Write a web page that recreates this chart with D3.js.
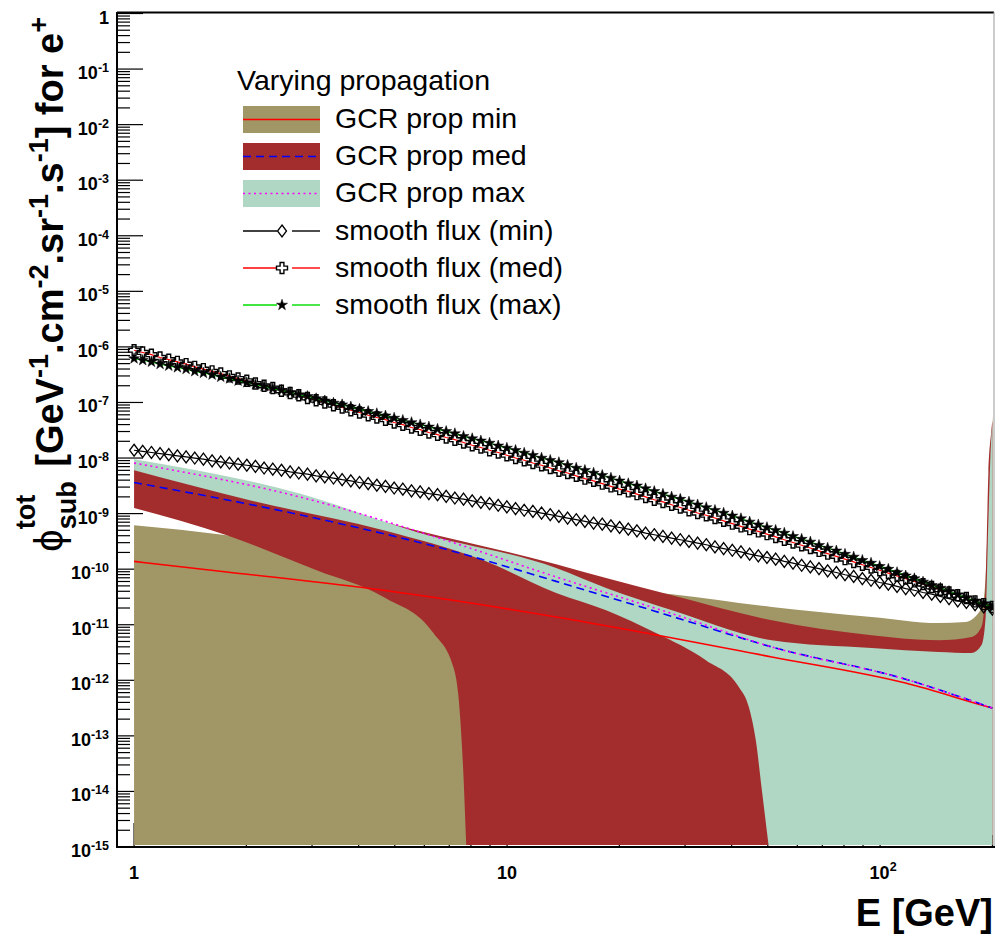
<!DOCTYPE html>
<html><head><meta charset="utf-8">
<script src="https://cdn.jsdelivr.net/npm/d3@7"></script>
<style>body{margin:0;background:#fff;} svg{display:block;}</style>
</head><body><svg id="chart" width="995" height="936"></svg>
<script>
// ---------- DATA (log10 values) ----------
const energyLog10 = [0,0.0232,0.0465,0.0697,0.093,0.1162,0.1395,0.1627,0.1859,0.2092,
0.2324,0.2557,0.2789,0.3022,0.3254,0.3486,0.3719,0.3951,0.4184,0.4416,
0.4649,0.4881,0.5113,0.5346,0.5578,0.5811,0.6043,0.6276,0.6508,0.674,
0.6973,0.7205,0.7438,0.767,0.7903,0.8135,0.8367,0.86,0.8832,0.9065,
0.9297,0.953,0.9762,0.9994,1.0227,1.0459,1.0692,1.0924,1.1157,1.1389,
1.1622,1.1854,1.2086,1.2319,1.2551,1.2784,1.3016,1.3249,1.3481,1.3713,
1.3946,1.4178,1.4411,1.4643,1.4876,1.5108,1.534,1.5573,1.5805,1.6038,
1.627,1.6503,1.6735,1.6967,1.72,1.7432,1.7665,1.7897,1.813,1.8362,
1.8594,1.8827,1.9059,1.9292,1.9524,1.9757,1.9989,2.0221,2.0454,2.0686,
2.0919,2.1151,2.1384,2.1616,2.1848,2.2081,2.2313,2.2546,2.2778,2.301];

const smoothMinLog10 = [-7.86,-7.88,-7.90,-7.92,-7.94,-7.96,-7.98,-8.00,-8.02,-8.05,
-8.07,-8.09,-8.11,-8.13,-8.15,-8.18,-8.20,-8.22,-8.25,-8.27,
-8.29,-8.32,-8.34,-8.36,-8.39,-8.41,-8.44,-8.46,-8.49,-8.51,
-8.54,-8.56,-8.59,-8.61,-8.64,-8.66,-8.69,-8.72,-8.74,-8.77,
-8.80,-8.82,-8.85,-8.88,-8.91,-8.94,-8.96,-8.99,-9.02,-9.05,
-9.08,-9.11,-9.14,-9.17,-9.19,-9.22,-9.25,-9.28,-9.31,-9.35,
-9.38,-9.41,-9.44,-9.47,-9.50,-9.53,-9.56,-9.60,-9.63,-9.66,
-9.69,-9.73,-9.76,-9.79,-9.82,-9.86,-9.89,-9.93,-9.96,-9.99,
-10.03,-10.06,-10.10,-10.13,-10.17,-10.20,-10.24,-10.27,-10.31,-10.35,
-10.38,-10.42,-10.45,-10.49,-10.53,-10.57,-10.60,-10.64,-10.68,-10.72];

const smoothMedLog10 = [-6.06,-6.10,-6.14,-6.19,-6.23,-6.27,-6.31,-6.36,-6.40,-6.44,
-6.48,-6.53,-6.57,-6.61,-6.66,-6.70,-6.74,-6.79,-6.83,-6.87,
-6.92,-6.96,-7.00,-7.05,-7.09,-7.14,-7.18,-7.23,-7.27,-7.31,
-7.36,-7.40,-7.45,-7.49,-7.54,-7.58,-7.63,-7.67,-7.72,-7.77,
-7.81,-7.86,-7.90,-7.95,-8.00,-8.04,-8.09,-8.13,-8.18,-8.23,
-8.27,-8.32,-8.37,-8.41,-8.46,-8.51,-8.56,-8.60,-8.65,-8.70,
-8.75,-8.79,-8.84,-8.89,-8.94,-8.99,-9.03,-9.08,-9.13,-9.18,
-9.23,-9.28,-9.32,-9.37,-9.42,-9.47,-9.52,-9.57,-9.62,-9.67,
-9.72,-9.77,-9.82,-9.87,-9.92,-9.97,-10.02,-10.07,-10.12,-10.17,
-10.22,-10.27,-10.32,-10.37,-10.42,-10.47,-10.52,-10.58,-10.63,-10.68];

const smoothMaxLog10 = [-6.21,-6.24,-6.27,-6.31,-6.34,-6.37,-6.40,-6.44,-6.47,-6.50,
-6.54,-6.57,-6.61,-6.64,-6.68,-6.71,-6.75,-6.78,-6.82,-6.86,
-6.89,-6.93,-6.97,-7.01,-7.04,-7.08,-7.12,-7.16,-7.20,-7.24,
-7.28,-7.32,-7.36,-7.40,-7.44,-7.48,-7.52,-7.56,-7.61,-7.65,
-7.69,-7.73,-7.78,-7.82,-7.86,-7.91,-7.95,-8.00,-8.04,-8.08,
-8.13,-8.18,-8.22,-8.27,-8.31,-8.36,-8.41,-8.46,-8.50,-8.55,
-8.60,-8.65,-8.70,-8.74,-8.79,-8.84,-8.89,-8.94,-8.99,-9.04,
-9.09,-9.15,-9.20,-9.25,-9.30,-9.35,-9.41,-9.46,-9.51,-9.57,
-9.62,-9.67,-9.73,-9.78,-9.84,-9.89,-9.95,-10.00,-10.06,-10.12,
-10.17,-10.23,-10.29,-10.34,-10.40,-10.46,-10.52,-10.58,-10.63,-10.69];

// GCR prop min band (khaki)
const minBandUpperE = [0,0.2486,0.7115,1.1316,1.4421,1.7097,1.9772,2.1565,2.2288,2.2636,2.277,2.2823,2.2903,2.2984,2.301];
const minBandUpperV = [-9.21,-9.39,-9.93,-10.29,-10.45,-10.68,-10.86,-10.97,-10.95,-10.79,-10.56,-10.20,-8.88,-7.68,-7.23];
const minBandLowerE = [0,2.301];
const minBandLowerV = [-16,-16];
// GCR prop med band (dark red)
const medBandUpperE = [0,0.4439,0.757,1.1316,1.2654,1.4421,1.7097,1.9772,2.1565,2.2449,2.2716,2.2823,2.2903,2.2984,2.301];
const medBandUpperV = [-8.09,-8.76,-9.30,-9.91,-10.16,-10.47,-10.92,-11.19,-11.28,-11.22,-11.04,-10.38,-8.27,-7.50,-7.32];
const medBandLowerE = [0,0.2486,0.4894,0.6687,0.8025,0.856,0.8721,0.8828,0.8908,0.90,2.301];
const medBandLowerV = [-8.90,-9.39,-10.02,-10.50,-11.15,-11.76,-12.48,-13.67,-15.0,-16,-16];
// GCR prop max band (light green)
const maxBandUpperE = [0,0.4439,0.757,1.1316,1.2654,1.4421,1.7097,1.9772,2.1565,2.2449,2.2716,2.2823,2.2903,2.2984,2.301];
const maxBandUpperV = [-8.02,-8.64,-9.33,-9.98,-10.34,-10.74,-11.28,-11.42,-11.49,-11.51,-11.37,-10.92,-9.12,-7.59,-7.41];
const maxBandLowerE = [0,0.3101,0.6687,0.9363,1.1316,1.2654,1.3992,1.533,1.6213,1.6481,1.6668,1.6829,1.7016,1.72,2.301];
const maxBandLowerV = [-8.22,-8.76,-9.30,-9.84,-10.43,-10.74,-11.15,-11.64,-12.12,-12.48,-13.08,-13.97,-15.0,-16,-16];

// central lines
const lineMinE = [0,0.2486,0.6687,1.1316,1.7097,2.0682,2.2903,2.301];
const lineMinV = [-9.86,-10.05,-10.38,-10.86,-11.58,-12.05,-12.48,-12.50];
const lineMedE = [0,0.4439,0.8453,1.1316,1.4421,1.7097,2.0682,2.301];
const lineMedV = [-8.44,-9.02,-9.66,-10.22,-10.85,-11.40,-11.98,-12.50];
const lineMaxE = [0,0.4439,0.8453,1.1316,1.4421,1.7097,2.0682,2.301];
const lineMaxV = [-8.09,-8.70,-9.50,-10.14,-10.80,-11.40,-11.98,-12.50];

const xTickValues = [1, 10, 100];
const xTickExponents = [0, 1, 2];
const yTickExponents = [0,-1,-2,-3,-4,-5,-6,-7,-8,-9,-10,-11,-12,-13,-14,-15];

const legendTitle = "Varying propagation";
const legendLabels = ["GCR prop min","GCR prop med","GCR prop max","smooth flux (min)","smooth flux (med)","smooth flux (max)"];

// ---------- STYLE ----------
const colKhaki = "#a19665", colRed = "#a32d2d", colGreen = "#b0d6c4";
const FONT = "'Liberation Sans', Arial, Helvetica, sans-serif";

const svg = d3.select("#chart");
const x = d3.scaleLog().domain([0.9, 202]).range([117, 994]);
const y = d3.scaleLog().domain([1e-15, 1]).range([847, 13.5]);
const P = (le, lv) => [x(10 ** le), y(10 ** lv)];

// ticks (drawn first, the fills cover them)
const tickG = svg.append("g").attr("stroke", "#000").attr("stroke-width", 1.2);
for (let n = -15; n <= 0; n++) {
  const yy = y(10 ** n);
  tickG.append("line").attr("x1", 117).attr("x2", 143).attr("y1", yy).attr("y2", yy);
  if (n < 0) for (let k = 2; k <= 9; k++) {
    const ym = y(k * 10 ** n);
    tickG.append("line").attr("x1", 117).attr("x2", 130).attr("y1", ym).attr("y2", ym);
  }
}
for (let d = -1; d <= 2; d++) {
  for (let k = 1; k <= 9; k++) {
    const v = k * 10 ** d;
    if (v < 0.9 || v > 202) continue;
    const xx = x(v);
    const major = (k === 1);
    tickG.append("line").attr("x1", xx).attr("x2", xx).attr("y1", 847).attr("y2", major ? 823 : 835);
  }
}

// clip
svg.append("clipPath").attr("id", "frame").append("rect")
  .attr("x", 117).attr("y", 13).attr("width", 877).attr("height", 832);
const plot = svg.append("g").attr("clip-path", "url(#frame)");

const curve = d3.line().curve(d3.curveMonotoneX);
function bandPath(uE, uV, lE, lV) {
  const up = uE.map((e, i) => P(e, uV[i]));
  const lo = lE.map((e, i) => P(e, lV[i])).reverse();
  return curve(up) + "L" + curve(lo).slice(1) + "Z";
}
plot.append("path").attr("d", bandPath(minBandUpperE, minBandUpperV, minBandLowerE, minBandLowerV)).attr("fill", colKhaki);
plot.append("path").attr("d", bandPath(medBandUpperE, medBandUpperV, medBandLowerE, medBandLowerV)).attr("fill", colRed);
plot.append("path").attr("d", bandPath(maxBandUpperE, maxBandUpperV, maxBandLowerE, maxBandLowerV)).attr("fill", colGreen);

function linePath(E, V) { return curve(E.map((e, i) => P(e, V[i]))); }
plot.append("path").attr("d", linePath(lineMinE, lineMinV)).attr("fill", "none").attr("stroke", "#ff0000").attr("stroke-width", 1.6);
plot.append("path").attr("d", linePath(lineMedE, lineMedV)).attr("fill", "none").attr("stroke", "#0000ff").attr("stroke-width", 1.6).attr("stroke-dasharray", "8,5");
plot.append("path").attr("d", linePath(lineMaxE, lineMaxV)).attr("fill", "none").attr("stroke", "#ff00ff").attr("stroke-width", 1.6).attr("stroke-dasharray", "2,3.5");

// markers
const diamondD = "M0,-6L4.5,0L0,6L-4.5,0Z";
const a = 5.5, b = 1.9;
const crossD = `M${-b},${-a}L${b},${-a}L${b},${-b}L${a},${-b}L${a},${b}L${b},${b}L${b},${a}L${-b},${a}L${-b},${b}L${-a},${b}L${-a},${-b}L${-b},${-b}Z`;
const starD = d3.symbol(d3.symbolStar, 38)();

const lin = d3.line();
function smooth(V, lineColor, markD, fill, sw) {
  const pts = energyLog10.map((e, i) => P(e, V[i]));
  plot.append("path").attr("d", lin(pts)).attr("fill", "none").attr("stroke", lineColor).attr("stroke-width", 1.2);
  plot.append("g").selectAll("path").data(pts).join("path")
    .attr("d", markD).attr("transform", d => `translate(${d[0]},${d[1]})`)
    .attr("fill", fill).attr("stroke", "#000").attr("stroke-width", sw);
}
smooth(smoothMinLog10, "#000", diamondD, "none", 1.3);
smooth(smoothMedLog10, "#ff0000", crossD, "none", 1.4);
smooth(smoothMaxLog10, "#00dd00", starD, "#000", 0.5);

// axes / frame lines
svg.append("line").attr("x1", 117).attr("x2", 994).attr("y1", 12.5).attr("y2", 12.5).attr("stroke", "#000").attr("stroke-width", 2);
svg.append("line").attr("x1", 994).attr("x2", 994).attr("y1", 12).attr("y2", 847).attr("stroke", "#999").attr("stroke-width", 1);
svg.append("line").attr("x1", 117).attr("x2", 117).attr("y1", 12).attr("y2", 848).attr("stroke", "#000").attr("stroke-width", 2);
svg.append("line").attr("x1", 116).attr("x2", 995).attr("y1", 847).attr("y2", 847).attr("stroke", "#000").attr("stroke-width", 2);

// tick labels
const lab = svg.append("g").attr("font-family", FONT).attr("font-weight", "bold").attr("fill", "#000");
yTickExponents.forEach(n => {
  const t = lab.append("text").attr("x", 109).attr("y", y(10 ** n) + 10).attr("text-anchor", "end").attr("font-size", 18);
  if (n === 0) t.text("1");
  else { t.append("tspan").text("10"); t.append("tspan").attr("font-size", 12.5).attr("dy", -7).text(String(n)); }
});
xTickValues.forEach((v, i) => {
  const ex = xTickExponents[i];
  const t = lab.append("text").attr("x", x(v) + (ex === 2 ? 3 : 0)).attr("y", 879).attr("text-anchor", "middle").attr("font-size", 18);
  if (ex === 0) t.text("1");
  else if (ex === 1) t.text("10");
  else { t.append("tspan").text("10"); t.append("tspan").attr("font-size", 12.5).attr("dy", -8).text(String(ex)); }
});

// axis titles
svg.append("text").attr("x", 993).attr("y", 926).attr("text-anchor", "end")
  .attr("font-family", FONT).attr("font-weight", "bold").attr("font-size", 38).text("E [GeV]");

const titleRuns = [
  {t: "\u03D5", s: 40, w: "normal", dy: 0},
  {stack: [{t: "tot", s: 27, dy: -28}, {t: "sub", s: 27, dy: 13}], gap: 4},
  {t: " [GeV", s: 38, dy: 0},
  {t: "-1", s: 27, dy: -15},
  {t: ".cm", s: 38, dy: 0},
  {t: "-2", s: 27, dy: -15},
  {t: ".sr", s: 38, dy: 0},
  {t: "-1", s: 27, dy: -15},
  {t: ".s", s: 38, dy: 0},
  {t: "-1", s: 27, dy: -15},
  {t: "] for e", s: 38, dy: 0},
  {t: "+", s: 27, dy: -15}
];
const tg = svg.append("g").attr("font-family", FONT).attr("font-weight", "bold");
function mk(r) {
  return tg.append("text").attr("font-size", r.s).attr("font-weight", r.w || "bold")
    .style("white-space", "pre").text(r.t);
}
let pos = 0;
const placed = [];
titleRuns.forEach(r => {
  if (r.stack) {
    let wmax = 0;
    r.stack.forEach(q => { const el = mk(q); const w = el.node().getComputedTextLength(); wmax = Math.max(wmax, w); placed.push({el, x: pos, dy: q.dy}); });
    pos += wmax + (r.gap || 0);
  } else {
    const el = mk(r); const w = el.node().getComputedTextLength();
    placed.push({el, x: pos, dy: r.dy}); pos += w;
  }
});
const yStart = 17 + pos;
tg.attr("transform", `translate(63,${yStart}) rotate(-90)`);
placed.forEach(p => p.el.attr("x", p.x).attr("y", p.dy));

// legend
const lg = svg.append("g").attr("font-family", FONT).attr("fill", "#000");
lg.append("text").attr("x", 237).attr("y", 90).attr("font-size", 28.5).text(legendTitle);
const rowY = [119.5, 156.5, 193.5, 231, 268, 305];
const boxFill = [colKhaki, colRed, colGreen];
const boxLine = [{c: "#ff0000", d: null}, {c: "#0000ff", d: "8,5"}, {c: "#ff00ff", d: "2,3.5"}];
for (let i = 0; i < 3; i++) {
  lg.append("rect").attr("x", 243).attr("y", rowY[i] - 13.5).attr("width", 77).attr("height", 27).attr("fill", boxFill[i]);
  lg.append("line").attr("x1", 243).attr("x2", 320).attr("y1", rowY[i]).attr("y2", rowY[i])
    .attr("stroke", boxLine[i].c).attr("stroke-width", 1.6).attr("stroke-dasharray", boxLine[i].d);
}
const mkLine = ["#000", "#ff0000", "#00dd00"];
const mkD = [diamondD, crossD, starD];
const mkFill = ["none", "none", "#000"];
const mkSw = [1.3, 1.4, 0.5];
for (let j = 0; j < 3; j++) {
  const yy = rowY[3 + j];
  lg.append("line").attr("x1", 243).attr("x2", 277).attr("y1", yy).attr("y2", yy).attr("stroke", mkLine[j]).attr("stroke-width", 1.4);
  lg.append("line").attr("x1", 292).attr("x2", 320).attr("y1", yy).attr("y2", yy).attr("stroke", mkLine[j]).attr("stroke-width", 1.4);
  lg.append("path").attr("d", mkD[j]).attr("transform", `translate(282,${yy})`).attr("fill", mkFill[j]).attr("stroke", "#000").attr("stroke-width", mkSw[j]);
}
legendLabels.forEach((s, i) => {
  lg.append("text").attr("x", 335).attr("y", rowY[i] + 8.5).attr("font-size", 28.5).text(s);
});
</script>
</body></html>
